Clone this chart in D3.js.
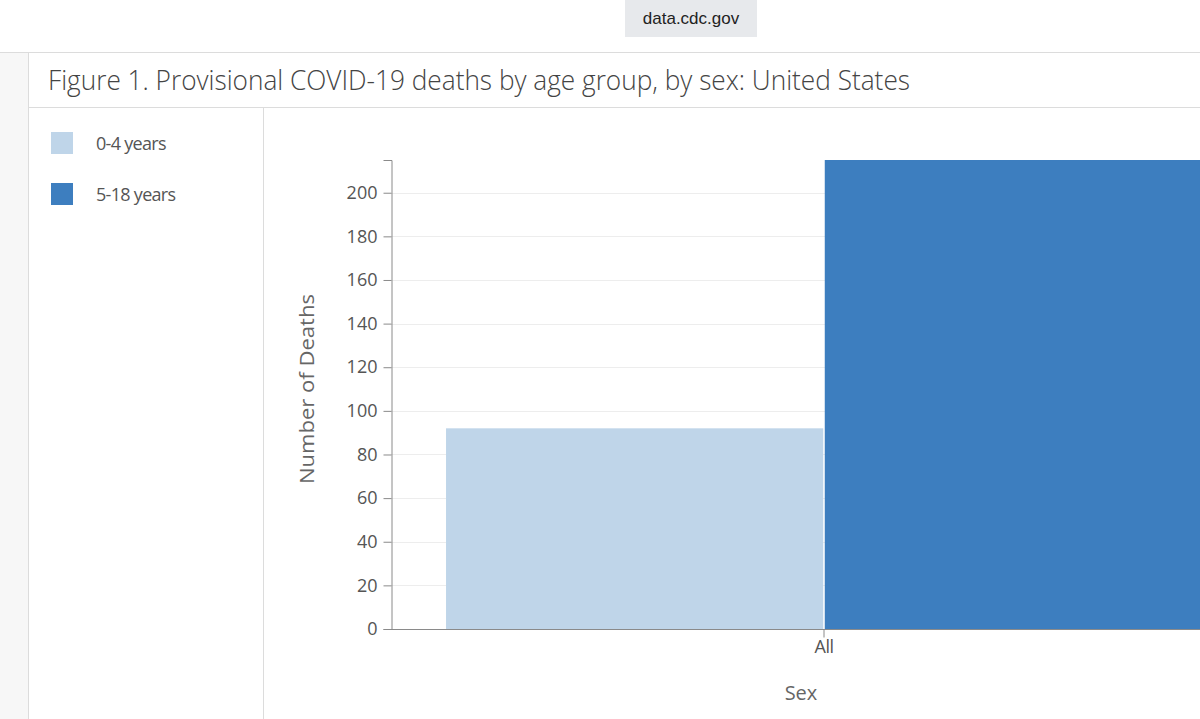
<!DOCTYPE html>
<html>
<head>
<meta charset="utf-8">
<script src="https://cdn.jsdelivr.net/npm/d3@7"></script>
<style>
  body { margin: 0; background: #fff; overflow: hidden; }
  svg { display: block; font-family: "Open Sans", sans-serif; }
</style>
</head>
<body>
<svg id="chart" width="1200" height="719"></svg>
<script>
// values
const categories = ["All"];
const ageGroups = ["0-4 years", "5-18 years"];
const deaths = [92, 215];
const colors = ["#bfd5e9", "#3d7ebf"];

const svg = d3.select('#chart');

// page chrome
svg.append('rect').attr('x', 625).attr('y', 0).attr('width', 132).attr('height', 37).attr('fill', '#e7e9ec');
svg.append('text').attr('x', 691).attr('y', 24).attr('text-anchor', 'middle')
   .style('font-family', '"Liberation Sans", Arial, sans-serif').style('font-size', '17px').attr('fill', '#222')
   .text('data.cdc.gov');

svg.append('rect').attr('x', 0).attr('y', 52).attr('width', 28).attr('height', 667).attr('fill', '#f7f7f7');
svg.append('line').attr('x1', 0).attr('x2', 1200).attr('y1', 52.5).attr('y2', 52.5).attr('stroke', '#dcdcdc');
svg.append('line').attr('x1', 28.5).attr('x2', 28.5).attr('y1', 52).attr('y2', 719).attr('stroke', '#dcdcdc');
svg.append('line').attr('x1', 28).attr('x2', 1200).attr('y1', 107.5).attr('y2', 107.5).attr('stroke', '#dcdcdc');
svg.append('line').attr('x1', 263.5).attr('x2', 263.5).attr('y1', 107).attr('y2', 719).attr('stroke', '#dcdcdc');

svg.append('text').attr('x', 48).attr('y', 90)
   .attr('textLength', 862).attr('lengthAdjust', 'spacingAndGlyphs')
   .style('font-size', '27px').style('font-weight', 300).attr('fill', '#444')
   .text('Figure 1. Provisional COVID-19 deaths by age group, by sex: United States');

// legend
const legend = svg.append('g').selectAll('g').data(ageGroups).enter().append('g')
   .attr('transform', (d, i) => `translate(51,${132 + i * 51})`);
legend.append('rect').attr('width', 22).attr('height', 22).attr('fill', (d, i) => colors[i]);
legend.append('text').attr('x', 45).attr('y', 12).attr('dy', '0.35em')
   .style('font-size', '18px').style('letter-spacing', '-0.7px').attr('fill', '#555').text(d => d);

// plot (the right part runs past the screenshot edge)
const plotLeft = 391, plotRight = 1257, plotTop = 160, plotBottom = 629;

const x0 = d3.scaleBand().domain(categories).range([plotLeft, plotRight]).paddingOuter(0.0728);
const x1 = d3.scaleBand().domain(ageGroups).range([0, x0.bandwidth()]).paddingInner(0.004);
const y = d3.scaleLinear().domain([0, d3.max(deaths)]).range([plotBottom, plotTop]);

const ticks = y.ticks(10);

svg.append('g').selectAll('line').data(ticks.filter(t => t > 0)).enter().append('line')
   .attr('x1', plotLeft).attr('x2', 1200)
   .attr('y1', d => Math.round(y(d)) + 0.5).attr('y2', d => Math.round(y(d)) + 0.5)
   .attr('stroke', '#ededed');

svg.append('g').selectAll('rect').data(ageGroups).enter().append('rect')
   .attr('x', (d, i) => x0('All') + x1(d))
   .attr('y', (d, i) => y(deaths[i]))
   .attr('width', x1.bandwidth())
   .attr('height', (d, i) => y(0) - y(deaths[i]))
   .attr('fill', (d, i) => colors[i]);

const yAxis = svg.append('g').attr('transform', `translate(${plotLeft + 0.5},0)`)
   .call(d3.axisLeft(y).tickValues(ticks).tickSize(8).tickSizeOuter(8).tickPadding(6));
yAxis.attr('font-family', '"Open Sans", sans-serif');
yAxis.selectAll('text').style('font-size', '18px').attr('fill', '#555');

const xAxis = svg.append('g').attr('transform', `translate(0,${plotBottom + 0.5})`)
   .call(d3.axisBottom(x0).tickSize(8).tickSizeOuter(0).tickPadding(3));
xAxis.attr('font-family', '"Open Sans", sans-serif');
xAxis.selectAll('text').style('font-size', '18px').style('letter-spacing', '-0.5px').attr('fill', '#555');

svg.selectAll('.domain, .tick line').attr('stroke', '#8a8a8a');
xAxis.select('.domain').attr('d', `M${plotLeft},0H${plotRight}`);

svg.append('text').attr('transform', 'translate(307,389) rotate(-90)').attr('text-anchor', 'middle')
   .attr('dy', '0.35em').attr('textLength', 190).attr('lengthAdjust', 'spacingAndGlyphs')
   .style('font-size', '20px').attr('fill', '#666').text('Number of Deaths');
svg.append('text').attr('x', 801).attr('y', 693).attr('dy', '0.35em').attr('text-anchor', 'middle')
   .style('font-size', '20px').attr('fill', '#666').text('Sex');
</script>
</body>
</html>
